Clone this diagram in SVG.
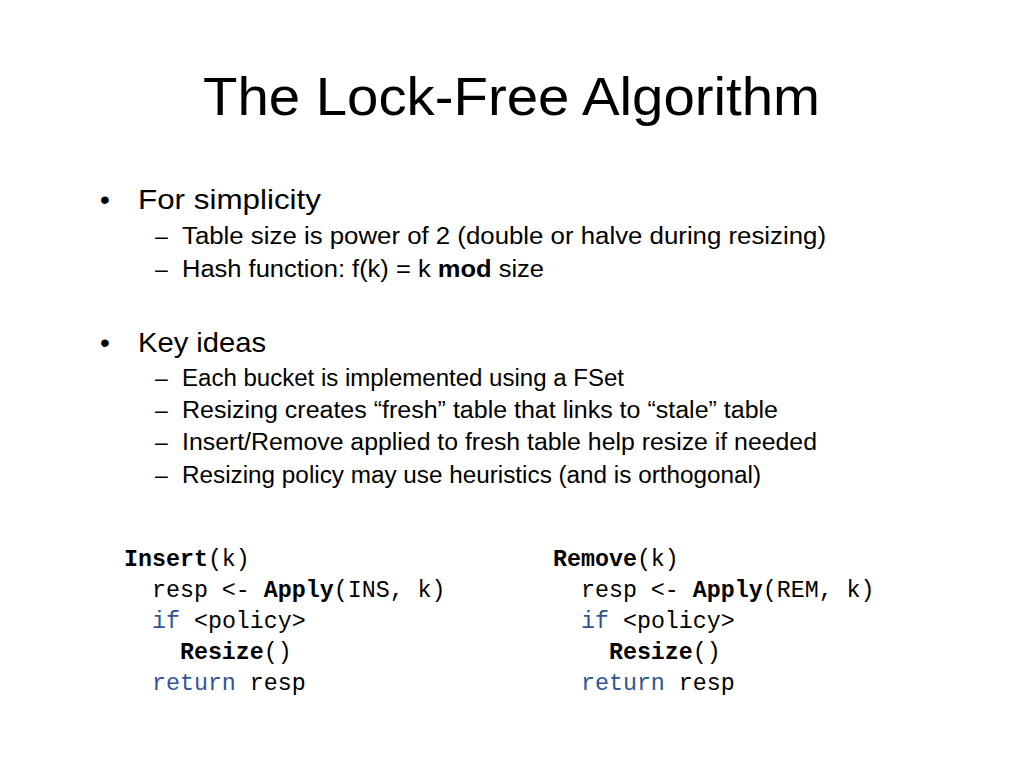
<svg xmlns="http://www.w3.org/2000/svg" width="1024" height="768" viewBox="0 0 1024 768">
<style>
.t{font-family:"Liberation Sans",Arial,sans-serif;fill:#000}
.b1{font-size:28px}
.b2{font-size:23px}
.c{font-family:"Liberation Mono","DejaVu Sans Mono",monospace;font-size:23.3px;fill:#000;white-space:pre}
.k{fill:#2F5597}
.bd{font-weight:bold}
</style>
<rect width="1024" height="768" fill="#fff"/>
<text class="t" x="203" y="115" font-size="54" textLength="617" lengthAdjust="spacingAndGlyphs">The Lock-Free Algorithm</text>
<g id="bullets">
<text class="t b1" x="100" y="209">•</text>
<text class="t b1" x="138" y="209" textLength="183" lengthAdjust="spacingAndGlyphs">For simplicity</text>
<text class="t b2" x="155" y="244">–</text>
<text class="t b2" x="182" y="244" textLength="644" lengthAdjust="spacingAndGlyphs">Table size is power of 2 (double or halve during resizing)</text>
<text class="t b2" x="155" y="277">–</text>
<text class="t b2" x="182" y="277" textLength="362" lengthAdjust="spacingAndGlyphs">Hash function: f(k) = k <tspan class="bd">mod</tspan> size</text>
<text class="t b1" x="100" y="352">•</text>
<text class="t b1" x="138" y="352" textLength="128" lengthAdjust="spacingAndGlyphs">Key ideas</text>
<text class="t b2" x="155" y="386">–</text>
<text class="t b2" x="182" y="386" textLength="442" lengthAdjust="spacingAndGlyphs">Each bucket is implemented using a FSet</text>
<text class="t b2" x="155" y="418">–</text>
<text class="t b2" x="182" y="418" textLength="596" lengthAdjust="spacingAndGlyphs">Resizing creates “fresh” table that links to “stale” table</text>
<text class="t b2" x="155" y="450">–</text>
<text class="t b2" x="182" y="450" textLength="635" lengthAdjust="spacingAndGlyphs">Insert/Remove applied to fresh table help resize if needed</text>
<text class="t b2" x="155" y="483">–</text>
<text class="t b2" x="182" y="483" textLength="579" lengthAdjust="spacingAndGlyphs">Resizing policy may use heuristics (and is orthogonal)</text>
</g>
<g id="insert">
<text class="c" x="124" y="566"><tspan class="bd">Insert</tspan>(k)</text>
<text class="c" x="124" y="597">  resp &lt;- <tspan class="bd">Apply</tspan>(INS, k)</text>
<text class="c" x="124" y="628">  <tspan class="k">if</tspan> &lt;policy&gt;</text>
<text class="c" x="124" y="659">    <tspan class="bd">Resize</tspan>()</text>
<text class="c" x="124" y="690">  <tspan class="k">return</tspan> resp</text>
</g>
<g id="remove">
<text class="c" x="553" y="566"><tspan class="bd">Remove</tspan>(k)</text>
<text class="c" x="553" y="597">  resp &lt;- <tspan class="bd">Apply</tspan>(REM, k)</text>
<text class="c" x="553" y="628">  <tspan class="k">if</tspan> &lt;policy&gt;</text>
<text class="c" x="553" y="659">    <tspan class="bd">Resize</tspan>()</text>
<text class="c" x="553" y="690">  <tspan class="k">return</tspan> resp</text>
</g>
</svg>
